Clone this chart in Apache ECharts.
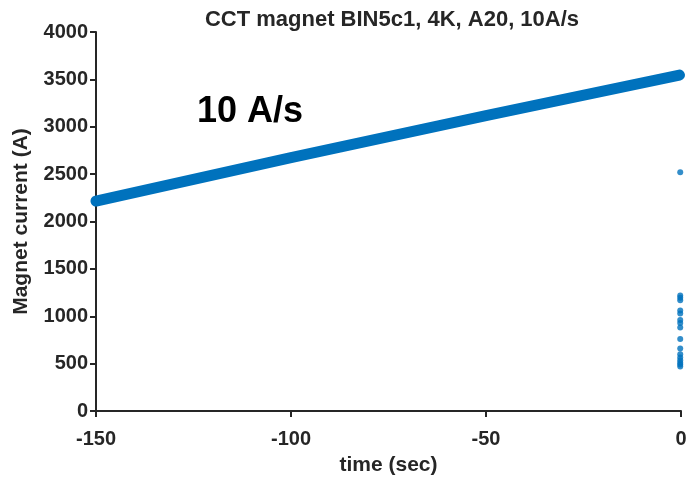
<!DOCTYPE html>
<html>
<head>
<meta charset="utf-8">
<script src="https://cdn.jsdelivr.net/npm/echarts@6/dist/echarts.min.js"></script>
<style>
  html, body { margin: 0; padding: 0; background: #fff; }
  #main { width: 687px; height: 479px; }
</style>
</head>
<body>
<div id="main"></div>
<script>
  // ramp (time sec, current A)
  const rampTime = [-150, -100, -50, -0.4]
  const rampCurrent = [2216, 2675, 3117, 3545]
  // scattered points near t=0 after the quench
  const dotTime = [-0.2, -0.2, -0.2, -0.2, -0.2, -0.2, -0.2, -0.2, -0.2, -0.2, -0.2, -0.2, -0.2, -0.2, -0.2, -0.2, -0.2]
  const dotCurrent = [2520, 1220, 1195, 1170, 1060, 1030, 960, 930, 880, 760, 660, 600, 565, 535, 510, 490, 470]
  const yTicks = [0, 500, 1000, 1500, 2000, 2500, 3000, 3500, 4000]
  const xTicks = [-150, -100, -50, 0]

  const chart = echarts.init(document.getElementById('main'))
  const axisColor = '#262626'
  const font = 'Liberation Sans, Arial, sans-serif'

  const option = {
    animation: false,
    backgroundColor: '#fff',
    title: {
      text: 'CCT magnet BIN5c1, 4K, A20, 10A/s',
      left: 387,
      top: 4,
      textAlign: 'center',
      textStyle: { fontFamily: font, fontSize: 22, fontWeight: 'bold', color: axisColor }
    },
    graphic: [{
      type: 'text',
      left: 197,
      top: 94,
      style: { text: '10 A/s', fontFamily: font, fontSize: 36, fontWeight: 'bold', fill: '#000' }
    }],
    grid: { left: 96, right: 6, top: 32, bottom: 68, outerBoundsMode: 'none' },
    xAxis: {
      type: 'value',
      min: xTicks[0],
      max: xTicks[xTicks.length - 1],
      interval: 50,
      name: 'time (sec)',
      nameLocation: 'middle',
      nameGap: 44,
      nameTextStyle: { fontFamily: font, fontSize: 21, fontWeight: 'bold', color: axisColor },
      axisLine: { show: true, onZero: false, lineStyle: { color: axisColor, width: 2 } },
      axisTick: { show: true, length: 6, lineStyle: { color: axisColor, width: 2 } },
      axisLabel: { fontFamily: font, fontSize: 20, fontWeight: 'bold', color: axisColor, margin: 18 },
      splitLine: { show: false }
    },
    yAxis: {
      type: 'value',
      min: yTicks[0],
      max: yTicks[yTicks.length - 1],
      interval: 500,
      name: 'Magnet current (A)',
      nameLocation: 'middle',
      nameGap: 64,
      nameTextStyle: { fontFamily: font, fontSize: 21, fontWeight: 'bold', color: axisColor },
      axisLine: { show: true, onZero: false, lineStyle: { color: axisColor, width: 2 } },
      axisTick: { show: true, length: 6, lineStyle: { color: axisColor, width: 2 } },
      axisLabel: {
        fontFamily: font, fontSize: 20, fontWeight: 'bold', color: axisColor, margin: 8,
        formatter: v => String(v)
      },
      splitLine: { show: false }
    },
    series: [
      {
        type: 'line',
        data: rampTime.map((t, i) => [t, rampCurrent[i]]),
        showSymbol: false,
        lineStyle: { color: '#0072BD', width: 11, cap: 'round' },
        clip: false
      },
      {
        type: 'scatter',
        data: dotTime.map((t, i) => [t, dotCurrent[i]]),
        symbolSize: 6,
        itemStyle: { color: '#0072BD' },
        clip: false
      }
    ]
  }
  chart.setOption(option)
</script>
</body>
</html>
